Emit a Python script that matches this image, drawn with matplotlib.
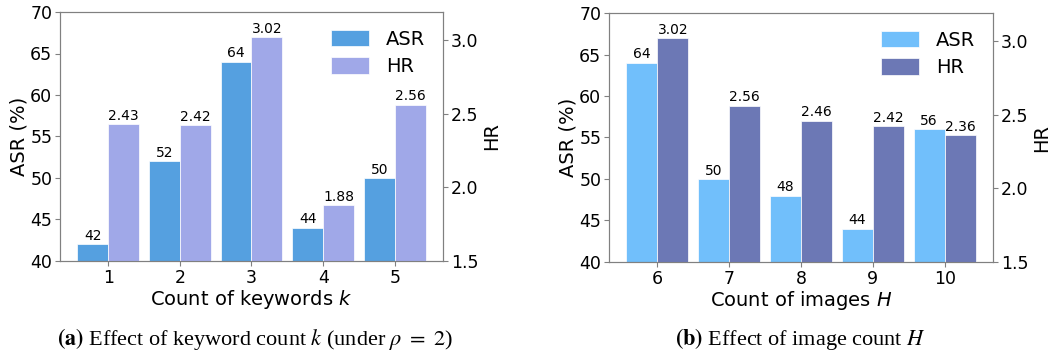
import numpy as np
import matplotlib.pyplot as plt

plt.rcParams['font.family'] = 'DejaVu Sans'
plt.rcParams['mathtext.fontset'] = 'dejavusans'

# (a) keyword count
keywords = ['1', '2', '3', '4', '5']
asr_k = [42, 52, 64, 44, 50]
hr_k = [2.43, 2.42, 3.02, 1.88, 2.56]

# (b) image count
images = ['6', '7', '8', '9', '10']
asr_h = [64, 50, 48, 44, 56]
hr_h = [3.02, 2.56, 2.46, 2.42, 2.36]


def draw_panel(ax, cats, asr, hr, c_asr, c_hr, xlabel):
    x = np.arange(len(cats))
    w = 0.43
    ax2 = ax.twinx()
    b1 = ax.bar(x - w / 2, asr, w, color=c_asr, edgecolor='white', linewidth=0.5, label='ASR')
    b2 = ax2.bar(x + w / 2, hr, w, color=c_hr, edgecolor='white', linewidth=0.5, label='HR')
    ax.set_ylim(40, 70)
    ax2.set_ylim(1.5, 3.19)
    ax2.set_yticks([1.5, 2.0, 2.5, 3.0])
    ax.set_xticks(x)
    ax.set_xticklabels(cats)
    ax.bar_label(b1, labels=[str(v) for v in asr], fontsize=10, padding=1)
    ax2.bar_label(b2, labels=['%.2f' % v for v in hr], fontsize=10, padding=1)
    ax.set_xlabel(xlabel, fontsize=14, labelpad=1)
    ax.set_ylabel('ASR (%)', fontsize=14, labelpad=1)
    ax2.set_ylabel('HR', fontsize=14, labelpad=3)
    for a in (ax, ax2):
        a.tick_params(labelsize=12.5, color='#808080', length=3.5, pad=2)
        for s in a.spines.values():
            s.set_color('#808080')
    ax.legend([b1, b2], ['ASR', 'HR'], loc='upper right', frameon=False,
              fontsize=14, handlelength=1.95, handleheight=0.9,
              borderaxespad=0.5, labelspacing=0.45, handletextpad=0.9)


fig = plt.figure(figsize=(10.6, 3.54), dpi=100)
ax_a = fig.add_axes([60 / 1060, 1 - 261 / 354, 383 / 1060, 249 / 354])
ax_b = fig.add_axes([609 / 1060, 1 - 262 / 354, 384 / 1060, 249 / 354])

draw_panel(ax_a, keywords, asr_k, hr_k, '#55a0e0', '#a0a8e8', 'Count of keywords $k$')
draw_panel(ax_b, images, asr_h, hr_h, '#71bffb', '#6c78b5', 'Count of images $H$')

fig.text(255 / 1060, 1 - 339 / 354, r'$\mathbf{(a)}$ Effect of keyword count $k$ (under $\rho\ =\ 2$)',
         ha='center', va='center', fontsize=16, family='Liberation Serif', math_fontfamily='stix')
fig.text(800 / 1060, 1 - 339 / 354, r'$\mathbf{(b)}$ Effect of image count $H$',
         ha='center', va='center', fontsize=16, family='Liberation Serif', math_fontfamily='stix')

fig.savefig('out.png', dpi=100)
